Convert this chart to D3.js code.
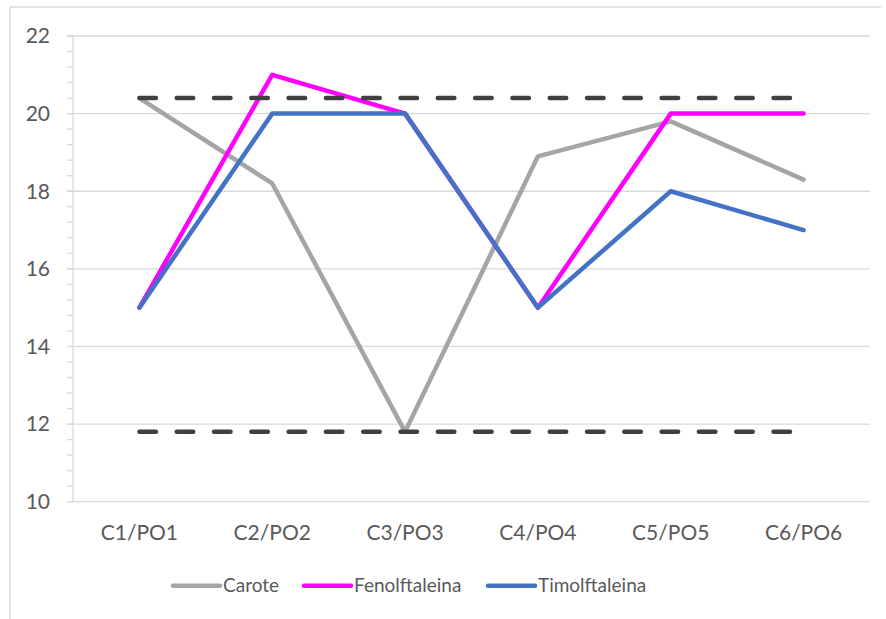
<!DOCTYPE html>
<html>
<head>
<meta charset="utf-8">
<script src="https://cdn.jsdelivr.net/npm/d3@7"></script>
<style>
  html, body { margin: 0; padding: 0; background: #ffffff; }
  svg text { font-family: Lato, "Open Sans", sans-serif; fill: #595959; }
</style>
</head>
<body>
<svg id="chart" width="886" height="619"></svg>
<script>
// Categories and series
const categories = ["C1/PO1", "C2/PO2", "C3/PO3", "C4/PO4", "C5/PO5", "C6/PO6"];
const carote = [20.4, 18.2, 11.8, 18.9, 19.8, 18.3];
const fenolftaleina = [15, 21, 20, 15, 20, 20];
const timolftaleina = [15, 20, 20, 15, 18, 17];
// Upper and lower reference levels (dashed)
const limitHigh = [20.4, 20.4, 20.4, 20.4, 20.4, 20.4];
const limitLow = [11.8, 11.8, 11.8, 11.8, 11.8, 11.8];
const yTicks = [10, 12, 14, 16, 18, 20, 22];

const series = [
  { name: "Carote", values: carote, color: "#a5a5a5" },
  { name: "Fenolftaleina", values: fenolftaleina, color: "#ff00ff" },
  { name: "Timolftaleina", values: timolftaleina, color: "#4472c4" }
];

const svg = d3.select("#chart");
const plot = { left: 73, right: 870, top: 36, bottom: 501.7 };

// Chart frame
svg.append("path")
  .attr("d", "M10,619 L10,7 L881,7")
  .attr("fill", "none")
  .attr("stroke", "#d9d9d9")
  .attr("stroke-width", 1.3);

const x = d3.scaleBand().domain(categories).range([plot.left, plot.right]);
const y = d3.scaleLinear().domain([10, 22]).range([plot.bottom, plot.top]);
const cx = c => x(c) + x.bandwidth() / 2;

// Horizontal gridlines
svg.append("g").selectAll("line").data(yTicks).join("line")
  .attr("x1", plot.left - 6).attr("x2", plot.right)
  .attr("y1", d => y(d)).attr("y2", d => y(d))
  .attr("stroke", "#d9d9d9").attr("stroke-width", 1.3);

// Minor ticks on the value axis
const minor = d3.range(10, 22.001, 0.4);
svg.append("g").selectAll("line").data(minor).join("line")
  .attr("x1", plot.left - 6).attr("x2", plot.left)
  .attr("y1", d => y(d)).attr("y2", d => y(d))
  .attr("stroke", "#d9d9d9").attr("stroke-width", 1.3);

// Value axis line
svg.append("line")
  .attr("x1", plot.left).attr("x2", plot.left)
  .attr("y1", plot.top).attr("y2", plot.bottom)
  .attr("stroke", "#d9d9d9").attr("stroke-width", 1.3);

// Value axis labels
svg.append("g").selectAll("text").data(yTicks).join("text")
  .attr("x", 50).attr("y", d => y(d))
  .attr("dy", "0.35em")
  .attr("text-anchor", "end")
  .attr("font-size", 21)
  .text(d => d);

// Category labels
svg.append("g").selectAll("text").data(categories).join("text")
  .attr("x", d => cx(d)).attr("y", 540)
  .attr("text-anchor", "middle")
  .attr("font-size", 21)
  .text(d => d);

const line = d3.line()
  .x((d, i) => cx(categories[i]))
  .y(d => y(d));

// Data series
svg.append("g").selectAll("path").data(series).join("path")
  .attr("d", d => line(d.values))
  .attr("fill", "none")
  .attr("stroke", d => d.color)
  .attr("stroke-width", 4.5)
  .attr("stroke-linejoin", "round")
  .attr("stroke-linecap", "round");

// Dashed limit lines
svg.append("g").selectAll("path").data([limitHigh, limitLow]).join("path")
  .attr("d", d => line(d))
  .attr("fill", "none")
  .attr("stroke", "#404040")
  .attr("stroke-width", 4.5)
  .attr("stroke-dasharray", "16.5,20.8")
  .attr("stroke-linecap", "round");

// Legend
const legendItems = [
  { s: series[0], x: 173 },
  { s: series[1], x: 304 },
  { s: series[2], x: 488 }
];
const lg = svg.append("g").selectAll("g").data(legendItems).join("g")
  .attr("transform", d => `translate(${d.x},585.7)`);
lg.append("line")
  .attr("x1", 0).attr("x2", 47)
  .attr("stroke", d => d.s.color)
  .attr("stroke-width", 4.5)
  .attr("stroke-linecap", "round");
lg.append("text")
  .attr("x", 50).attr("dy", "0.35em")
  .attr("font-size", 19)
  .text(d => d.s.name);
</script>
</body>
</html>
